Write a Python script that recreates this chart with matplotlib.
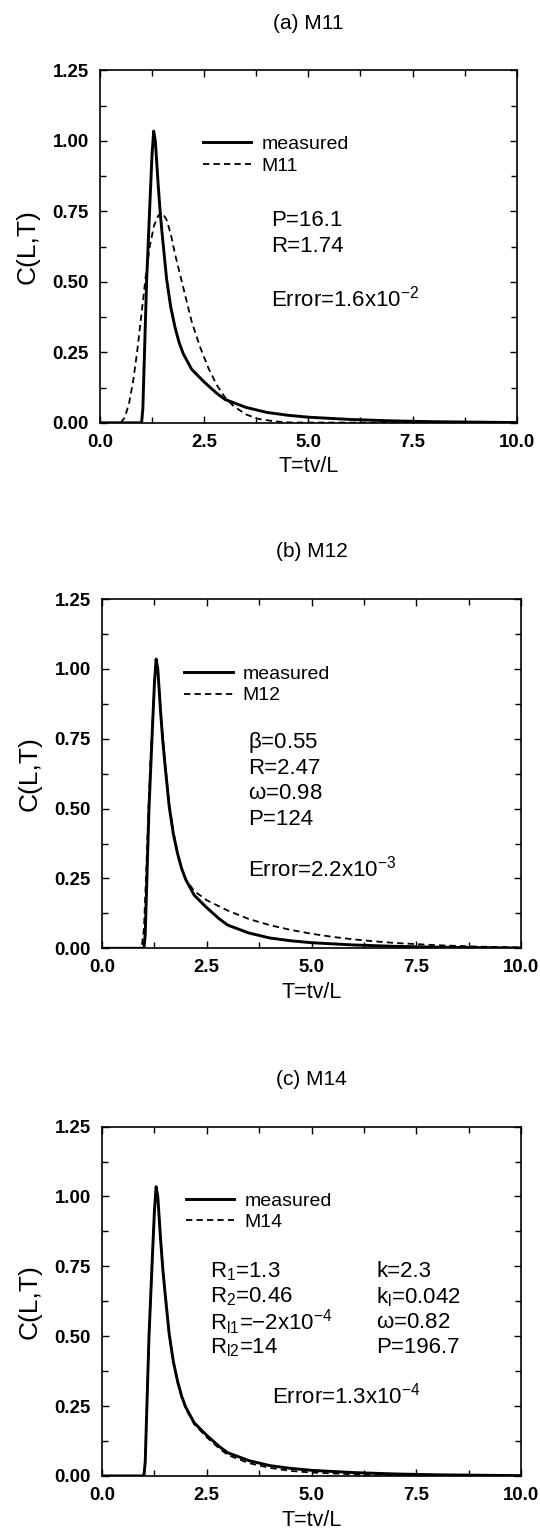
import numpy as np
import matplotlib
matplotlib.use("Agg")
from matplotlib import pyplot as plt
from matplotlib.ticker import MultipleLocator, FormatStrFormatter

plt.rcParams['font.family'] = ['Liberation Sans', 'DejaVu Sans']
plt.rcParams['mathtext.fontset'] = 'custom'
plt.rcParams['mathtext.rm'] = 'Liberation Sans'
plt.rcParams['mathtext.it'] = 'Liberation Sans'
plt.rcParams['mathtext.bf'] = 'Liberation Sans:bold'

# measured breakthrough curve (same in all panels)
T_meas = [0, 0.95, 1.0, 1.03, 1.08, 1.12, 1.16, 1.2, 1.25, 1.29, 1.33, 1.4, 1.45, 1.5,
          1.6, 1.7, 1.8, 1.9, 2.0, 2.2, 2.5, 2.8, 3.0, 3.5, 4.0, 4.5, 5.0, 6.0, 7.0, 8.0, 10.0]
C_meas = [0, 0, 0.0, 0.05, 0.3, 0.5, 0.64, 0.78, 0.95, 1.035, 1.0, 0.84, 0.74, 0.66,
          0.51, 0.41, 0.34, 0.285, 0.245, 0.19, 0.145, 0.105, 0.083, 0.055, 0.037, 0.027,
          0.02, 0.012, 0.007, 0.004, 0.001]

# model M11
T_m11 = [0, 0.5, 0.6, 0.7, 0.8, 0.9, 1.0, 1.1, 1.2, 1.3, 1.4, 1.5, 1.6, 1.7, 1.8, 2.0,
         2.2, 2.4, 2.6, 2.8, 3.0, 3.2, 3.5, 3.8, 4.2, 4.6, 10.0]
C_m11 = [0, 0, 0.02, 0.07, 0.15, 0.26, 0.39, 0.52, 0.63, 0.70, 0.735, 0.745, 0.72, 0.67,
         0.6, 0.48, 0.36, 0.27, 0.195, 0.135, 0.09, 0.06, 0.03, 0.014, 0.005, 0.001, 0]

# model M12
T_m12 = [0, 0.9, 0.95, 1.0, 1.05, 1.1, 1.15, 1.2, 1.25, 1.29, 1.33, 1.4, 1.5, 1.6, 1.7,
         1.8, 1.9, 2.0, 2.2, 2.5, 3.0, 3.5, 4.0, 4.5, 5.0, 5.5, 6.0, 6.5, 7.0, 7.5, 8.0,
         9.0, 10.0]
C_m12 = [0, 0, 0.01, 0.07, 0.26, 0.47, 0.66, 0.8, 0.95, 1.03, 1.0, 0.85, 0.67, 0.52, 0.42,
         0.34, 0.285, 0.245, 0.205, 0.172, 0.135, 0.105, 0.083, 0.066, 0.052, 0.041,
         0.032, 0.025, 0.019, 0.015, 0.011, 0.006, 0.003]

# model M14
T_m14 = [0, 0.95, 1.0, 1.03, 1.08, 1.12, 1.16, 1.2, 1.25, 1.29, 1.33, 1.4, 1.45, 1.5,
         1.6, 1.7, 1.8, 1.9, 2.0, 2.2, 2.5, 2.8, 3.0, 3.5, 4.0, 4.5, 5.0, 6.0, 7.0, 10.0]
C_m14 = [0, 0, 0.01, 0.06, 0.3, 0.5, 0.64, 0.78, 0.95, 1.03, 1.0, 0.84, 0.74, 0.66,
         0.51, 0.41, 0.335, 0.28, 0.24, 0.185, 0.138, 0.098, 0.075, 0.046, 0.029, 0.018,
         0.012, 0.006, 0.003, 0.0]

titles = ["(a) M11", "(b) M12", "(c) M14"]
model_names = ["M11", "M12", "M14"]
models = [(T_m11, C_m11), (T_m12, C_m12), (T_m14, C_m14)]

params_a = ["P=16.1", "R=1.74"]
params_b = [r"$\beta$=0.55", "R=2.47", r"$\omega$=0.98", "P=124"]
params_c_left = [r"R$_1$=1.3", r"R$_2$=0.46", r"R$_{l1}$=$-$2x10$^{-4}$", r"R$_{l2}$=14"]
params_c_right = ["k=2.3", r"k$_l$=0.042", r"$\omega$=0.82", "P=196.7"]
errors = [r"Error=1.6x10$^{-2}$", r"Error=2.2x10$^{-3}$", r"Error=1.3x10$^{-4}$"]

fig = plt.figure(figsize=(5.4, 15.32), dpi=100)
rects = [[0.185, 0.724, 0.772, 0.230],
         [0.189, 0.381, 0.776, 0.228],
         [0.189, 0.0366, 0.776, 0.228]]
legend_pos = [(0.247, 0.815), (0.196, 0.81), (0.2, 0.813)]
fs_txt = 16

for i in range(3):
    ax = fig.add_axes(rects[i])
    ax.plot(T_meas, C_meas, color='black', lw=2.1, label='measured')
    ax.plot(models[i][0], models[i][1], color='black', lw=1.3, dashes=(3.5, 2.3),
            label=model_names[i])
    ax.set_xlim(0, 10)
    ax.set_ylim(0, 1.25)
    ax.xaxis.set_major_locator(MultipleLocator(2.5))
    ax.xaxis.set_minor_locator(MultipleLocator(1.25))
    ax.yaxis.set_major_locator(MultipleLocator(0.25))
    ax.yaxis.set_minor_locator(MultipleLocator(0.125))
    ax.xaxis.set_major_formatter(FormatStrFormatter('%.1f'))
    ax.yaxis.set_major_formatter(FormatStrFormatter('%.2f'))
    ax.tick_params(which='both', direction='in', top=True, right=True, labelsize=13.4)
    ax.tick_params(which='major', length=5, width=1)
    ax.tick_params(which='minor', length=4, width=1)
    ax.tick_params(axis='x', pad=8)
    ax.tick_params(axis='y', pad=8)
    for lab in ax.get_xticklabels() + ax.get_yticklabels():
        lab.set_fontweight('bold')
    for s in ax.spines.values():
        s.set_linewidth(1.2)
    ax.set_xlabel("T=tv/L", fontsize=15.5, labelpad=4)
    ax.set_ylabel("C(L,T)", fontsize=19, labelpad=9)
    ax.set_title(titles[i], fontsize=15, pad=30)
    ax.legend(loc='upper left', bbox_to_anchor=legend_pos[i], frameon=False,
              fontsize=14, handlelength=2.5, handletextpad=0.5, labelspacing=0.2,
              borderpad=0, borderaxespad=0)

    if i == 0:
        for k, s in enumerate(params_a):
            ax.text(0.41, 0.574 - k * 0.074, s, transform=ax.transAxes, fontsize=fs_txt,
                    va='center', ha='left')
        ax.text(0.41, 0.352, errors[0], transform=ax.transAxes, fontsize=fs_txt,
                va='center', ha='left')
    elif i == 1:
        for k, s in enumerate(params_b):
            ax.text(0.349, 0.589 - k * 0.073, s, transform=ax.transAxes, fontsize=fs_txt,
                    va='center', ha='left')
        ax.text(0.349, 0.229, errors[1], transform=ax.transAxes, fontsize=fs_txt,
                va='center', ha='left')
    else:
        for k, s in enumerate(params_c_left):
            ax.text(0.258, 0.584 - k * 0.072, s, transform=ax.transAxes, fontsize=fs_txt,
                    va='center', ha='left')
        for k, s in enumerate(params_c_right):
            ax.text(0.654, 0.584 - k * 0.072, s, transform=ax.transAxes, fontsize=fs_txt,
                    va='center', ha='left')
        ax.text(0.406, 0.229, errors[2], transform=ax.transAxes, fontsize=fs_txt,
                va='center', ha='left')

fig.savefig("out.png", dpi=100)
